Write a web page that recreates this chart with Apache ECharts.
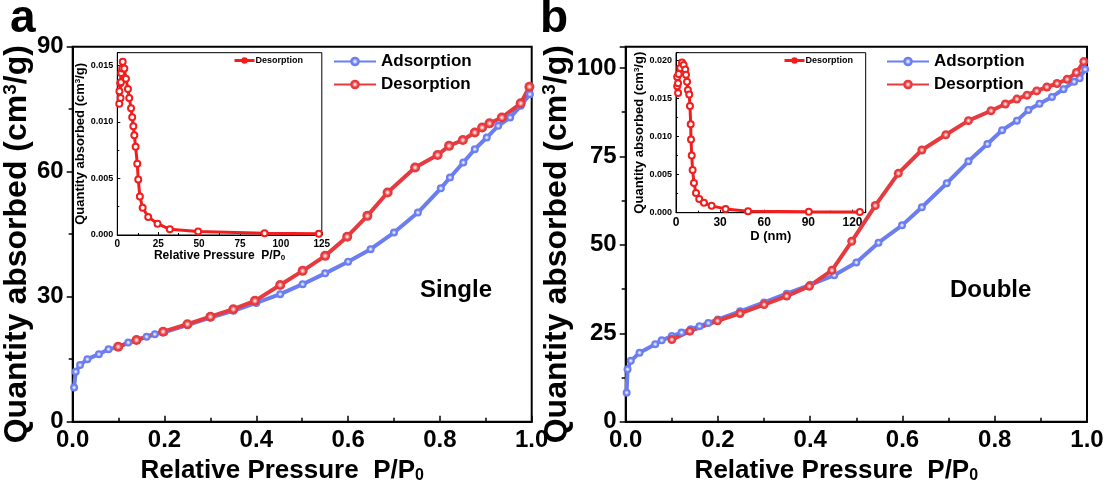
<!DOCTYPE html>
<html>
<head>
<meta charset="utf-8">
<script src="https://cdn.jsdelivr.net/npm/echarts@6/dist/echarts.min.js"></script>
<style>
  html, body { margin: 0; padding: 0; background: #fff; }
  #main { width: 1109px; height: 496px; }
</style>
</head>
<body>
<div id="main"></div>
<script>
// ---- data ----
// panel a (Single): isotherm
var singleAdsP = [0.003,0.0065,0.016,0.032,0.057,0.078,0.100,0.121,0.140,0.161,0.179,0.200,0.250,0.300,0.350,0.400,0.452,0.501,0.550,0.600,0.649,0.700,0.752,0.802,0.822,0.851,0.876,0.902,0.927,0.953,0.976,0.996];
var singleAdsQ = [8.2,12.0,13.6,15.0,16.2,17.4,17.9,19.0,19.6,20.4,21.0,21.5,23.2,25.0,26.6,28.5,30.6,33.0,35.6,38.4,41.4,45.4,50.2,56.0,58.6,62.2,65.4,68.2,71.0,73.0,75.8,78.6];
var singleDesP = [0.995,0.976,0.935,0.908,0.892,0.876,0.850,0.820,0.795,0.746,0.686,0.642,0.598,0.550,0.501,0.452,0.397,0.350,0.300,0.250,0.197,0.139,0.099];
var singleDesQ = [80.4,76.4,73.0,71.6,70.6,69.4,67.6,66.2,64.0,61.0,55.0,49.4,44.4,39.8,36.2,32.8,29.0,27.0,25.2,23.4,21.6,19.6,18.0];
// panel a inset: distribution
var singlePsdX = [1.2,1.3,2.0,1.8,2.4,2.2,3.0,3.3,4.3,5.3,6.5,7.3,8.4,9.1,9.8,10.4,11.2,12.2,12.8,13.8,15.5,18.9,24.6,32.1,49.4,90.0,123.2];
var singlePsdY = [0.0116,0.0127,0.0121,0.0134,0.0143,0.0135,0.0147,0.0153,0.0147,0.0138,0.0129,0.0121,0.0112,0.0104,0.0096,0.0088,0.0078,0.0063,0.0049,0.0034,0.0024,0.0016,0.0010,0.0005,0.0003,0.00015,0.0001];

// panel b (Double): isotherm
var doubleAdsP = [0.002,0.004,0.011,0.030,0.064,0.078,0.100,0.121,0.141,0.160,0.179,0.200,0.248,0.300,0.349,0.400,0.452,0.500,0.548,0.599,0.642,0.696,0.743,0.784,0.816,0.848,0.873,0.897,0.924,0.949,0.972,0.984,0.996];
var doubleAdsQ = [8.2,14.8,17.2,19.5,21.9,23.0,24.2,25.2,26.1,27.0,27.9,28.9,31.2,33.7,36.2,38.7,41.4,45.0,50.6,55.5,60.6,67.4,73.6,78.5,82.4,85.1,88.1,89.9,91.8,94.0,96.1,97.1,99.6];
var doubleDesP = [0.993,0.977,0.957,0.935,0.913,0.891,0.870,0.848,0.823,0.792,0.743,0.694,0.642,0.591,0.541,0.490,0.447,0.398,0.349,0.300,0.248,0.199,0.139,0.100];
var doubleDesQ = [101.8,98.7,96.8,95.6,94.6,93.5,92.3,91.2,89.8,87.9,85.1,81.1,76.8,70.2,61.1,51.0,42.8,38.3,35.5,33.1,30.6,28.5,25.6,23.2];
// panel b inset: distribution
var doublePsdX = [1.4,0.8,1.4,0.8,1.8,2.9,4.1,5.2,6.3,6.8,7.5,8.1,9.0,9.5,10.0,10.2,10.7,11.3,12.2,13.6,15.8,19.0,24.2,33.7,49.0,90.3,125.0];
var doublePsdY = [0.0157,0.0166,0.0170,0.0178,0.0182,0.0190,0.0197,0.0194,0.0188,0.0181,0.0172,0.0161,0.0155,0.0140,0.0116,0.0096,0.0075,0.0056,0.0039,0.0026,0.0018,0.0013,0.0009,0.0005,0.0002,0.00013,0.0001];

var ff = "'Liberation Sans', Arial, sans-serif";
var blue = '#6a7ef2', red = '#e63a3e', insetRed = '#f21d1d';

function pairs(xs, ys) {
  var out = [];
  for (var i = 0; i < xs.length; i++) out.push([xs[i], ys[i]]);
  return out;
}
function ball(c, mid) {
  return { type: 'radial', x: 0.5, y: 0.5, r: 0.5,
    colorStops: [{ offset: 0, color: '#fff' }, { offset: 0.25, color: mid }, { offset: 0.6, color: c }, { offset: 1, color: c }] };
}

var chart = echarts.init(document.getElementById('main'));

// main axes helpers
function mainX(idx) {
  return {
    type: 'value', gridIndex: idx, min: 0, max: 1, interval: 0.2,
    name: '{t|Relative Pressure  P/P}{s|0}', nameLocation: 'middle', nameGap: 34,
    nameTextStyle: { padding: [0, 40, 0, 0], rich: {
      t: { fontSize: 26, fontWeight: 'bold', fontFamily: ff, color: '#000' },
      s: { fontSize: 16, fontWeight: 'bold', fontFamily: ff, color: '#000', verticalAlign: 'bottom' } } },
    axisLine: { lineStyle: { color: '#000', width: 2 } },
    axisTick: { inside: true, length: 6, lineStyle: { color: '#000', width: 1.5 } },
    minorTick: { show: true, splitNumber: 2, length: 4, lineStyle: { color: '#000', width: 1.5 } },
    splitLine: { show: false },
    axisLabel: { margin: 7, fontSize: 24, fontWeight: 'bold', fontFamily: ff, color: '#000',
      formatter: function (v) { return v.toFixed(1); } }
  };
}
function mainY(idx, max, interval, gap) {
  return {
    type: 'value', gridIndex: idx, min: 0, max: max, interval: interval,
    name: '{t|Quantity absorbed (cm}{s|3}{t|/g)}', nameLocation: 'middle', nameGap: gap, nameRotate: 90,
    nameTextStyle: { padding: [0, 20, 0, 0], rich: {
      t: { fontSize: 32, fontWeight: 'bold', fontFamily: ff, color: '#000' },
      s: { fontSize: 19, fontWeight: 'bold', fontFamily: ff, color: '#000', verticalAlign: 'top' } } },
    axisLine: { lineStyle: { color: '#000', width: 2 } },
    axisTick: { inside: false, length: 6, lineStyle: { color: '#000', width: 1.5 } },
    minorTick: { show: true, splitNumber: 2, length: 4, lineStyle: { color: '#000', width: 1.5 } },
    splitLine: { show: false },
    axisLabel: { margin: 9, fontSize: 24, fontWeight: 'bold', fontFamily: ff, color: '#000',
      showMaxLabel: max % interval === 0 }
  };
}
function insetX(idx, max, interval, name, rich, gap, fs) {
  return {
    type: 'value', gridIndex: idx, min: 0, max: max, interval: interval,
    name: name, nameLocation: 'middle', nameGap: gap,
    nameTextStyle: { rich: rich },
    axisLine: { lineStyle: { color: '#000', width: 1 } },
    axisTick: { inside: true, length: 3, lineStyle: { color: '#000' } },
    minorTick: { show: true, splitNumber: 2, length: 2, lineStyle: { color: '#000' } },
    splitLine: { show: false },
    axisLabel: { margin: 4, fontSize: fs, fontWeight: 'bold', fontFamily: ff, color: '#000',
      showMaxLabel: max % interval === 0 }
  };
}
function insetY(idx, max, gap) {
  return {
    type: 'value', gridIndex: idx, min: 0, max: max, interval: 0.005,
    name: '{t|Quantity absorbed (cm}{s|3}{t|/g)}', nameLocation: 'middle', nameGap: gap, nameRotate: 90,
    nameTextStyle: { rich: {
      t: { fontSize: 13, fontWeight: 'bold', fontFamily: ff, color: '#000' },
      s: { fontSize: 8, fontWeight: 'bold', fontFamily: ff, color: '#000', verticalAlign: 'top' } } },
    axisLine: { lineStyle: { color: '#000', width: 1 } },
    axisTick: { inside: true, length: 3, lineStyle: { color: '#000' } },
    minorTick: { show: true, splitNumber: 2, length: 2, lineStyle: { color: '#000' } },
    splitLine: { show: false },
    axisLabel: { margin: 4, fontSize: 9, fontWeight: 'bold', fontFamily: ff, color: '#000',
      showMaxLabel: false, formatter: function (v) { return v.toFixed(3); } }
  };
}

var legendText = { fontSize: 17, fontWeight: 'bold', fontFamily: ff, color: '#000' };
var insetLegendItem = { name: 'Desorption', itemStyle: { color: insetRed, borderWidth: 1.5 },
  lineStyle: { color: insetRed, width: 3 } };

var option = {
  animation: false,
  backgroundColor: '#fff',
  grid: [
    { left: 72.7, top: 46.7, width: 459, height: 375, show: true, borderColor: '#000', borderWidth: 2 },
    { left: 117.3, top: 52.7, width: 204.5, height: 182.3, show: true, backgroundColor: '#fff', borderColor: '#000', borderWidth: 1 },
    { left: 625.7, top: 46.7, width: 461.3, height: 375, show: true, borderColor: '#000', borderWidth: 2 },
    { left: 676, top: 52.7, width: 189.7, height: 160, show: true, backgroundColor: '#fff', borderColor: '#000', borderWidth: 1 }
  ],
  xAxis: [
    mainX(0),
    insetX(1, 125, 25, '{t|Relative Pressure  P/P}{s|0}', {
      t: { fontSize: 12, fontWeight: 'bold', fontFamily: ff, color: '#000' },
      s: { fontSize: 8, fontWeight: 'bold', fontFamily: ff, color: '#000', verticalAlign: 'bottom' } }, 13, 10),
    mainX(2),
    insetX(3, 129, 30, '{t|D (nm)}', {
      t: { fontSize: 13, fontWeight: 'bold', fontFamily: ff, color: '#000' } }, 15, 12)
  ],
  yAxis: [
    mainY(0, 90, 30, 29),
    insetY(1, 0.0161, 29),
    mainY(2, 106, 25, 34),
    insetY(3, 0.021, 28)
  ],
  legend: [
    { orient: 'vertical', left: 333, top: 53, padding: 0, itemWidth: 42, itemHeight: 12, itemGap: 6,
      data: ['Adsorption', 'Desorption'], textStyle: legendText },
    { orient: 'vertical', left: 886, top: 53, padding: 0, itemWidth: 42, itemHeight: 12, itemGap: 6,
      data: ['Adsorption', 'Desorption'], textStyle: legendText },
    { left: 233, top: 56, padding: 0, itemWidth: 20, itemHeight: 8, data: [insetLegendItem],
      textStyle: { fontSize: 9, fontWeight: 'bold', fontFamily: ff, color: '#000', padding: [0, 0, 0, -4] } },
    { left: 783, top: 56, padding: 0, itemWidth: 20, itemHeight: 8, data: [insetLegendItem],
      textStyle: { fontSize: 9, fontWeight: 'bold', fontFamily: ff, color: '#000', padding: [0, 0, 0, -4] } }
  ],
  graphic: [
    { type: 'text', left: 10, top: -4, style: { text: 'a', font: 'bold 46px ' + ff, fill: '#000' } },
    { type: 'text', left: 540, top: -4, style: { text: 'b', font: 'bold 46px ' + ff, fill: '#000' } },
    { type: 'text', left: 420, top: 278, style: { text: 'Single', font: 'bold 24px ' + ff, fill: '#000' } },
    { type: 'text', left: 950, top: 278, style: { text: 'Double', font: 'bold 24px ' + ff, fill: '#000' } }
  ],
  series: [
    { name: 'Adsorption', type: 'line', xAxisIndex: 0, yAxisIndex: 0, data: pairs(singleAdsP, singleAdsQ),
      symbol: 'circle', symbolSize: 8, lineStyle: { color: blue, width: 4 },
      itemStyle: { color: ball(blue, '#c9d0fb') } },
    { name: 'Desorption', type: 'line', xAxisIndex: 0, yAxisIndex: 0, data: pairs(singleDesP, singleDesQ),
      symbol: 'circle', symbolSize: 10, lineStyle: { color: red, width: 4 },
      itemStyle: { color: ball(red, '#f8b0b0') } },
    { name: 'Adsorption', type: 'line', xAxisIndex: 2, yAxisIndex: 2, data: pairs(doubleAdsP, doubleAdsQ),
      symbol: 'circle', symbolSize: 8, lineStyle: { color: blue, width: 4 },
      itemStyle: { color: ball(blue, '#c9d0fb') } },
    { name: 'Desorption', type: 'line', xAxisIndex: 2, yAxisIndex: 2, data: pairs(doubleDesP, doubleDesQ),
      symbol: 'circle', symbolSize: 9, lineStyle: { color: red, width: 4 },
      itemStyle: { color: ball(red, '#f8b0b0') } },
    { name: 'Desorption', type: 'line', xAxisIndex: 1, yAxisIndex: 1, data: pairs(singlePsdX, singlePsdY),
      symbol: 'emptyCircle', symbolSize: 6, lineStyle: { color: insetRed, width: 3 },
      itemStyle: { color: insetRed, borderWidth: 1.5 } },
    { name: 'Desorption', type: 'line', xAxisIndex: 3, yAxisIndex: 3, data: pairs(doublePsdX, doublePsdY),
      symbol: 'emptyCircle', symbolSize: 6, lineStyle: { color: insetRed, width: 3 },
      itemStyle: { color: insetRed, borderWidth: 1.5 } }
  ]
};

chart.setOption(option);
window.onresize = chart.resize;
</script>
</body>
</html>
